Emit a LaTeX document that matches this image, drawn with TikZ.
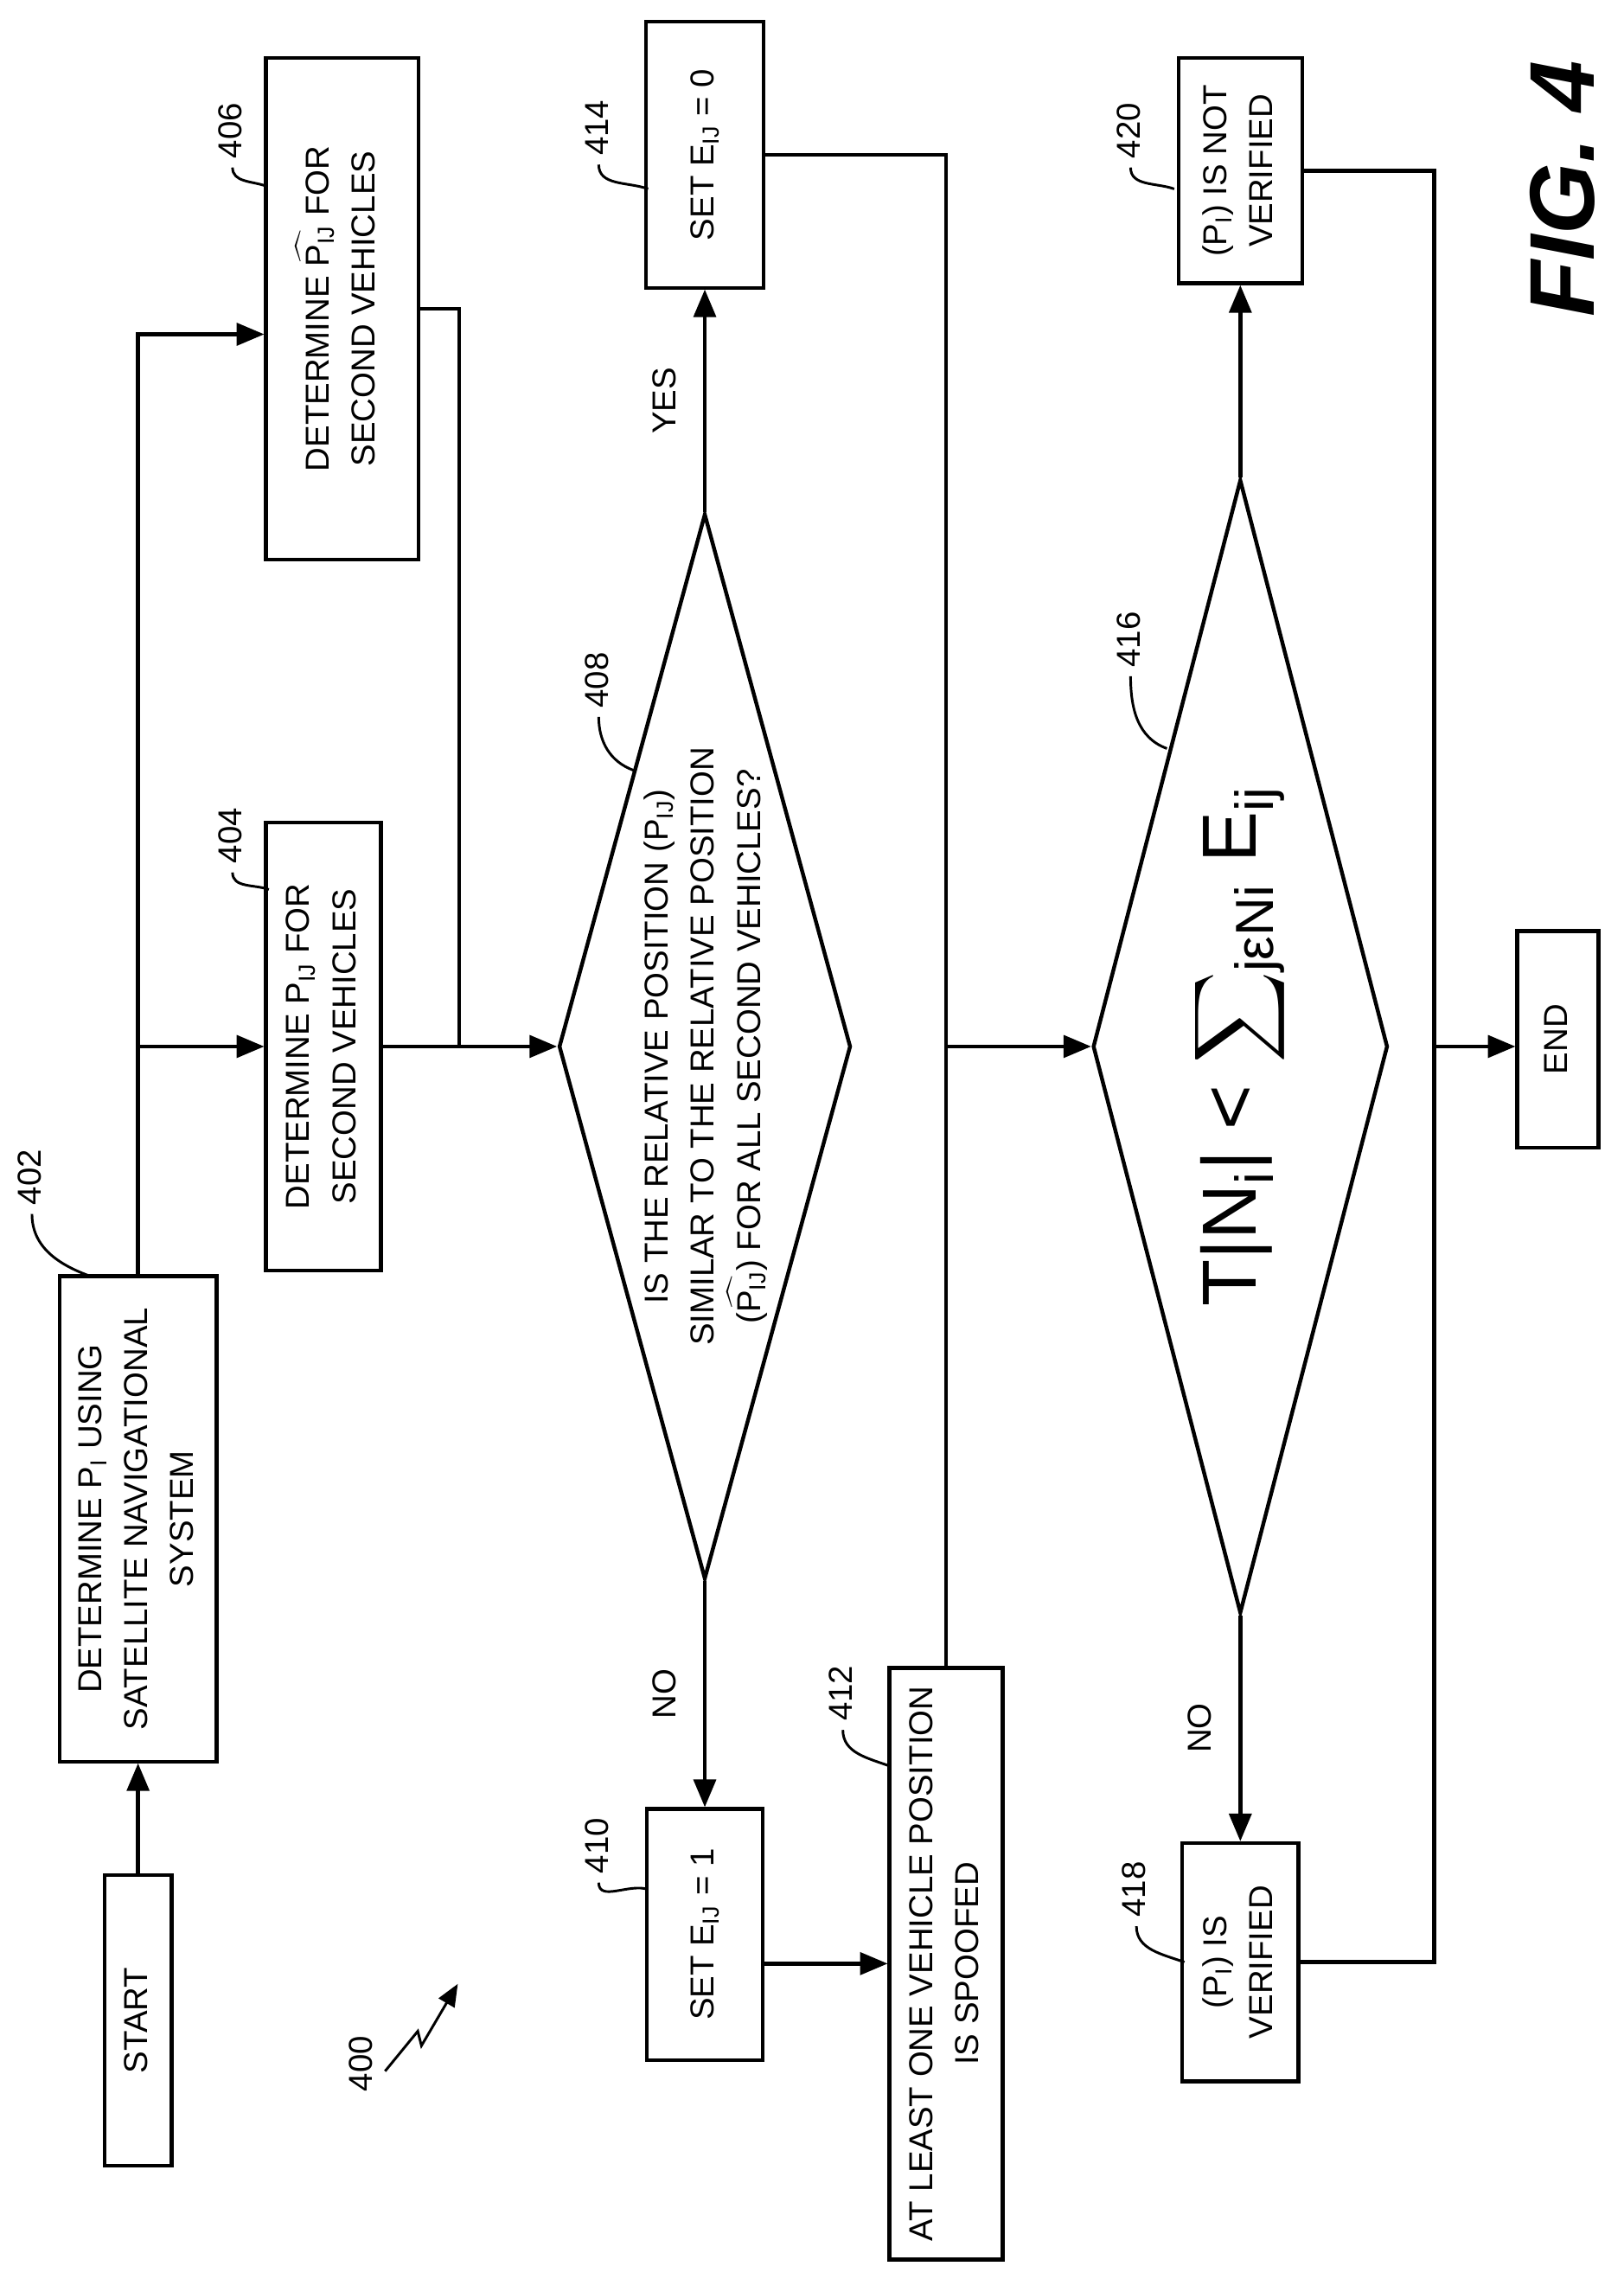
\documentclass[tikz,border=0pt]{standalone}
\usepackage{amsmath}
\usepackage{fontspec}
\setmainfont{Liberation Sans}
\usetikzlibrary{arrows}
\usetikzlibrary{shapes.geometric}
\newcommand{\rot}[1]{\rotatebox{90}{\begin{tabular}{@{}c@{}}#1\end{tabular}}}
\newcommand{\sub}[1]{\textsubscript{#1}}
\newcommand{\hatP}{$\widehat{\text{P}\sub{IJ}}$}

\begin{document}
\begin{tikzpicture}[>=triangle 45,
	box/.style={rectangle, draw, line width=1.5pt, inner sep=0pt},
	decision/.style={diamond, draw, line width=1.5pt, inner sep=0pt},
	arr/.style={line width=1.5pt, ->},
	line/.style={line width=1.5pt},
	every node/.style={font=\fontsize{13}{18}\selectfont}]
				\useasboundingbox (0,0) rectangle (22.34,-31.36);
				\node[box, minimum width=0.92cm, minimum height=4cm] (start) at (1.9,-27.8) {\rot{START}};
				\node[box, minimum width=2.16cm, minimum height=6.68cm] (n402) at (1.9,-20.9) {\rot{DETERMINE P\sub{I} USING\\SATELLITE NAVIGATIONAL\\SYSTEM}};
				\node[box, minimum width=1.58cm, minimum height=6.16cm] (n404) at (4.45,-14.4) {\rot{DETERMINE P\sub{IJ} FOR\\SECOND VEHICLES}};
				\node[box, minimum width=2.1cm, minimum height=6.9cm] (n406) at (4.71,-4.25) {\rot{DETERMINE \hatP{} FOR\\SECOND VEHICLES}};
				\node[decision, minimum width=4.02cm, minimum height=14.66cm] (n408) at (9.7,-14.4) {};
				\node at (n408) {\rot{IS THE RELATIVE POSITION (P\sub{IJ})\\SIMILAR TO THE RELATIVE POSITION\\(\hatP) FOR ALL SECOND VEHICLES?}};
				\node[box, minimum width=1.6cm, minimum height=3.46cm] (n410) at (9.7,-26.62) {\rot{SET E\sub{IJ} = 1}};
				\node[box, minimum width=1.56cm, minimum height=8.14cm] (n412) at (13.02,-27.02) {\rot{AT LEAST ONE VEHICLE POSITION\\IS SPOOFED}};
				\node[box, minimum width=1.62cm, minimum height=3.66cm] (n414) at (9.7,-2.13) {\rot{SET E\sub{IJ} = 0}};
				\node[decision, minimum width=4.06cm, minimum height=15.6cm] (n416) at (17.07,-14.4) {};
				\node at (n416) {\rotatebox{90}{\fontsize{30}{34}\selectfont T|N\sub{i}| < $\displaystyle\sum$\sub{jεNi} E\sub{ij}}};
				\node[box, minimum width=1.6cm, minimum height=3.28cm] (n418) at (17.07,-27.0) {\rot{(P\sub{I}) IS\\VERIFIED}};
				\node[box, minimum width=1.7cm, minimum height=3.1cm] (n420) at (17.07,-2.35) {\rot{(P\sub{I}) IS NOT\\VERIFIED}};
				\node[box, minimum width=1.12cm, minimum height=2.98cm] (end) at (21.44,-14.3) {\rot{END}};
				
				\coordinate (c406) at (1.9,-4.6);
				\coordinate (j1) at (6.32,-14.4);
				\coordinate (j2) at (13.02,-14.4);
				\coordinate (j3) at (19.74,-14.4);
				
				\draw[arr] (start.north) -- (n402.south);
				\draw[arr] (n402.north) |- (n406.west |- c406);
				\draw[arr] (n402.north |- n404.west) -- (n404.west);
				\draw[arr] (n404.east) -- (n408.west);
				\draw[line] (n406.east) -| (j1);
				\draw[arr] (n408.north) -- (n414.south) node[midway, left=2pt] () {\rot{YES}};
				\draw[arr] (n408.south) -- (n410.north) node[midway, left=2pt] () {\rot{NO}};
				\draw[arr] (n410.east |- n412.west) -- (n412.west);
				\draw[arr] (n412.north) |- (n416.west);
				\draw[line] (n414.east) -| (j2);
				\draw[arr] (n416.north) -- (n420.south);
				\draw[arr] (n416.south) -- (n418.north) node[midway, left=2pt] () {\rot{NO}};
				\draw[line] (n420.east) -| (j3);
				\draw[line] (n418.east) -| (j3);
				\draw[arr] (j3) -- (j3 -| end.west);
				
				% reference numerals
				\node (r402) at (0.44,-16.2) {\rot{402}};
				\node (r404) at (3.2,-11.5) {\rot{404}};
				\node (r406) at (3.2,-1.8) {\rot{406}};
				\node (r408) at (8.24,-9.36) {\rot{408}};
				\node (r410) at (8.24,-25.4) {\rot{410}};
				\node (r412) at (11.6,-23.3) {\rot{412}};
				\node (r414) at (8.24,-1.76) {\rot{414}};
				\node (r416) at (15.56,-8.8) {\rot{416}};
				\node (r418) at (15.64,-26.0) {\rot{418}};
				\node (r420) at (15.56,-1.8) {\rot{420}};
				\draw[line, line width=1pt] (r402.south) to[out=-90, in=160] (1.24,-17.56);
				\draw[line, line width=1pt] (r404.south) to[out=-90, in=160] (3.7,-12.24);
				\draw[line, line width=1pt] (r406.south) to[out=-90, in=160] (3.66,-2.56);
				\draw[line, line width=1pt] (r408.south) to[out=-90, in=160] (8.72,-10.6);
				\draw[line, line width=1pt] (r410.south) to[out=-90, in=160] (8.92,-26.0);
				\draw[line, line width=1pt] (r412.south) to[out=-90, in=160] (12.24,-24.3);
				\draw[line, line width=1pt] (r414.south) to[out=-90, in=160] (8.92,-2.6);
				\draw[line, line width=1pt] (r416.south) to[out=-90, in=160] (16.06,-10.3);
				\draw[line, line width=1pt] (r418.south) to[out=-90, in=160] (16.3,-27.0);
				\draw[line, line width=1pt] (r420.south) to[out=-90, in=160] (16.16,-2.6);
				
				\node (r400) at (5.0,-28.4) {\rot{400}};
				\draw[line, line width=1pt, ->] (5.3,-28.5) -- (5.75,-27.95) -- (5.8,-28.15) -- (6.3,-27.3);
				\node (fig) at (21.5,-2.6) {\rotatebox{90}{\fontsize{36}{40}\selectfont\bfseries\itshape FIG. 4}};
			\end{tikzpicture}
\end{document}
